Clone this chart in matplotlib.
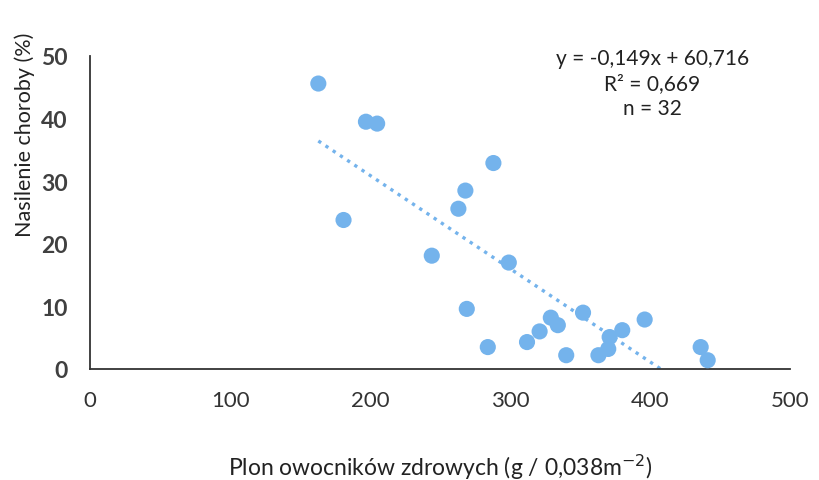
import numpy as np
import matplotlib
matplotlib.use('Agg')
import matplotlib.pyplot as plt

plt.rcParams['font.family'] = ['Lato', 'DejaVu Sans']

# Data
plon = [163, 197, 205, 181, 244, 288, 268, 263, 299, 269, 284, 312, 321,
        329, 334, 340, 352, 363, 370, 371, 380, 396, 436, 441]
choroba = [45.6, 39.5, 39.2, 23.8, 18.1, 32.9, 28.5, 25.6, 17.0, 9.6, 3.5,
           4.3, 6.0, 8.2, 7.0, 2.2, 9.0, 2.2, 3.2, 5.1, 6.2, 7.9, 3.5, 1.4]

# trend line coefficients (from the chart label)
slope = -0.149
intercept = 60.716
trend_x = [163, 408]

xticks = [0, 100, 200, 300, 400, 500]
yticks = [0, 10, 20, 30, 40, 50]

fig = plt.figure(figsize=(8.2, 4.81), dpi=100)
ax = fig.add_axes([0.1098, 0.2308, 0.854, 0.6507])

ax.scatter(plon, choroba, s=135, color='#74B3EC', edgecolors='none', zorder=3)

tx = np.array(trend_x, dtype=float)
ax.plot(tx, slope * tx + intercept, linestyle=(0, (1, 1.6)), linewidth=2.4,
        color='#74B3EC', zorder=2)

ax.set_xlim(0, 500)
ax.set_ylim(0, 50)
ax.set_xticks(xticks)
ax.set_yticks(yticks)
ax.tick_params(axis='x', length=0, pad=15)
ax.tick_params(axis='y', length=0, pad=16)
for lab in ax.get_xticklabels():
    lab.set_fontsize(16)
    lab.set_color('#333333')
for lab in ax.get_yticklabels():
    lab.set_fontsize(16.5)
    lab.set_fontweight('bold')
    lab.set_color('#404040')

for s in ['top', 'right']:
    ax.spines[s].set_visible(False)
for s in ['left', 'bottom']:
    ax.spines[s].set_color('#333333')
    ax.spines[s].set_linewidth(1.3)

ax.set_xlabel('Plon owocników zdrowych (g / 0,038m$^{-2}$)', fontsize=16.5,
              color='#222222', labelpad=30)
fig.text(0.03, 0.72, 'Nasilenie choroby (%)', rotation=90, fontsize=15.5,
         color='#222222', ha='center', va='center')

ax.text(0.803, 1.025, 'y = -0,149x + 60,716\nR² = 0,669\nn = 32',
        transform=ax.transAxes, ha='center', va='top', fontsize=15,
        color='#222222', linespacing=1.3)

fig.savefig('out.png', dpi=100)
